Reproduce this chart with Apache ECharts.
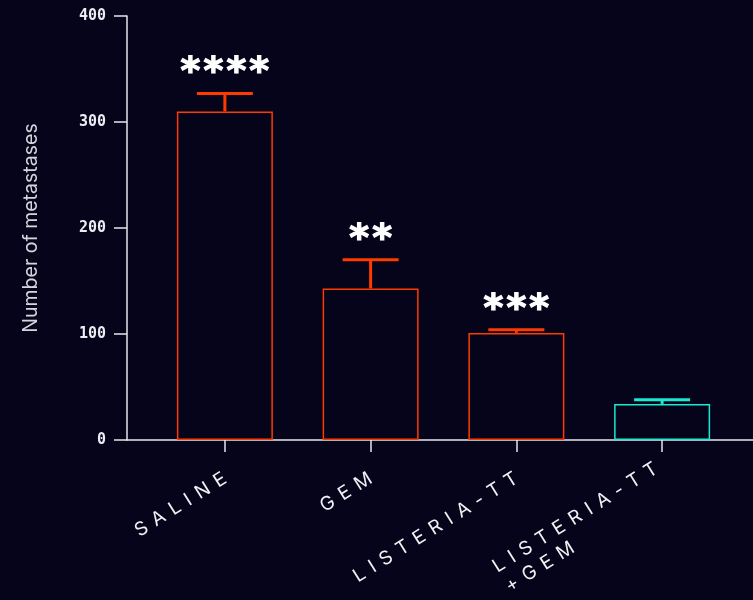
<!DOCTYPE html>
<html>
<head>
<meta charset="utf-8">
<script src="https://cdn.jsdelivr.net/npm/echarts@6/dist/echarts.min.js"></script>
<style>
  html, body { margin: 0; padding: 0; background: #05041a; }
  #chart { width: 753px; height: 600px; }
</style>
</head>
<body>
<div id="chart"></div>
<script>
// Groups, mean metastasis counts, upper error values and significance marks
const categories = ['SALINE', 'GEM', 'LISTERIA-TT', 'LISTERIA-TT\n+GEM'];
const means = [310, 143, 101, 34];
const upperErrors = [327, 170, 104, 38];
const significance = ['****', '**', '***', ''];
const yTicks = [0, 100, 200, 300, 400];

const ORANGE = '#ff3a00';
const CYAN = '#1de9d2';
const colors = [ORANGE, ORANGE, ORANGE, CYAN];
const AXIS = '#e6e6ee';

const chart = echarts.init(document.getElementById('chart'));

// tracked-out category labels: each character is its own rich token with side padding
function tracked(s) {
  return s.split('\n')
    .map(line => line.split('').map(ch => '{c|' + ch + '}').join(''))
    .join('\n');
}

chart.setOption({
  backgroundColor: '#05041a',
  animation: false,
  grid: [
    { left: 152, right: 18, top: 16, bottom: 160, containLabel: false, outerBoundsMode: 'none' },
    { left: 127, right: 0, top: 16, bottom: 160, containLabel: false, outerBoundsMode: 'none' }
  ],
  xAxis: [
    {
      type: 'category',
      gridIndex: 0,
      data: categories,
      axisLine: { show: false },
      axisTick: { show: true, alignWithLabel: true, length: 12, lineStyle: { color: AXIS, width: 1.5 } },
      axisLabel: {
        rotate: 32,
        margin: 37,
        interval: 0,
        color: '#f0f0f5',
        fontFamily: 'Inter',
        fontSize: 19,
        lineHeight: 23,
        formatter: v => tracked(v),
        rich: {
          c: {
            align: 'left',
            color: '#f0f0f5',
            fontFamily: 'Inter',
            fontWeight: 'normal',
            fontSize: 19,
            lineHeight: 23,
            padding: [0, 0, 0, 7.5]
          }
        }
      }
    },
    {
      type: 'value',
      gridIndex: 1,
      min: 0,
      max: 1,
      axisLine: { show: true, lineStyle: { color: AXIS, width: 1.5 } },
      axisTick: { show: false },
      axisLabel: { show: false },
      splitLine: { show: false }
    }
  ],
  yAxis: [
    {
      type: 'value',
      gridIndex: 0,
      min: yTicks[0],
      max: yTicks[yTicks.length - 1],
      interval: 100,
      offset: 25,
      name: 'Number of metastases',
      nameLocation: 'middle',
      nameGap: 86,
      nameTextStyle: { color: '#d4d4dc', fontFamily: 'Inter', fontSize: 19.5 },
      axisLine: { show: true, lineStyle: { color: AXIS, width: 1.5 } },
      axisTick: { show: true, length: 13, lineStyle: { color: AXIS, width: 1.5 } },
      axisLabel: {
        color: '#ececf2',
        fontFamily: 'DejaVu Sans Mono',
        fontWeight: 'bold',
        fontSize: 15,
        margin: 21
      },
      splitLine: { show: false }
    },
    {
      type: 'value',
      gridIndex: 1,
      min: 0,
      max: 1,
      show: false
    }
  ],
  series: [
    {
      type: 'bar',
      xAxisIndex: 0,
      yAxisIndex: 0,
      barWidth: 96,
      data: means.map((v, i) => ({
        value: v,
        itemStyle: { color: 'rgba(0,0,0,0)', borderColor: colors[i], borderWidth: 1.5 }
      }))
    },
    {
      type: 'custom',
      xAxisIndex: 0,
      yAxisIndex: 0,
      data: categories.map((c, i) => [i, means[i], upperErrors[i]]),
      renderItem: function (params, api) {
        const i = api.value(0);
        const base = api.coord([i, api.value(1)]);
        const top = api.coord([i, api.value(2)]);
        const half = 28;
        const col = colors[i];
        const children = [
          { type: 'line', shape: { x1: base[0], y1: base[1], x2: top[0], y2: top[1] },
            style: { stroke: col, lineWidth: 3 } },
          { type: 'line', shape: { x1: top[0] - half, y1: top[1], x2: top[0] + half, y2: top[1] },
            style: { stroke: col, lineWidth: 3 } }
        ];
        if (significance[i]) {
          children.push({
            type: 'text',
            style: {
              text: significance[i],
              x: top[0],
              y: top[1] - 1,
              align: 'center',
              verticalAlign: 'bottom',
              fill: '#ffffff',
              stroke: '#ffffff',
              lineWidth: 1.2,
              font: 'bold 38px "DejaVu Sans Mono"'
            }
          });
        }
        return { type: 'group', children: children };
      }
    }
  ]
});
</script>
</body>
</html>
